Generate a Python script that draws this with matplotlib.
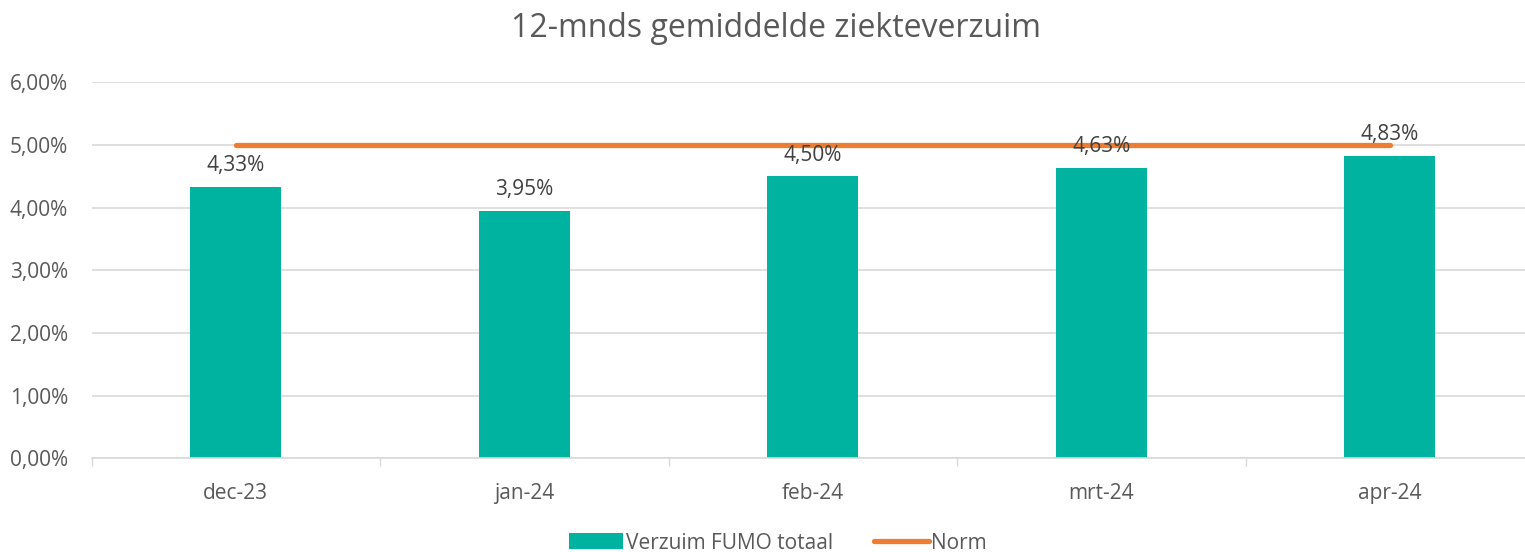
import matplotlib.pyplot as plt
from matplotlib.patches import Patch
from matplotlib.lines import Line2D

plt.rcParams['font.family'] = ['Open Sans', 'DejaVu Sans']

# Data
months = ["dec-23", "jan-24", "feb-24", "mrt-24", "apr-24"]
verzuim = [4.33, 3.95, 4.50, 4.63, 4.83]
norm = [5.0, 5.0, 5.0, 5.0, 5.0]

teal = "#00B2A0"
orange = "#ED7D31"
grey_text = "#595959"

fig = plt.figure(figsize=(15.25, 5.52), dpi=100)
ax = fig.add_axes([0.060, 0.170, 0.946, 0.681])

x = list(range(len(months)))
ax.bar(x, verzuim, width=0.315, color=teal, zorder=2)
ax.plot(x, norm, color=orange, linewidth=3.8, solid_capstyle="round", zorder=3)

# data labels above the bars
for xi, v in zip(x, verzuim):
    ax.text(xi, v + 0.17, f"{v:.2f}%".replace(".", ","), ha="center", va="bottom",
            fontsize=15, color="#404040", zorder=4)

ax.set_xlim(-0.5, len(months) - 0.5)
ax.set_ylim(0, 6)
ax.set_yticks([0, 1, 2, 3, 4, 5, 6])
ax.set_yticklabels([f"{t:.2f}%".replace(".", ",") for t in range(7)])
ax.set_xticks(x)
ax.set_xticklabels(months)
ax.set_xticks([i - 0.5 for i in range(len(months) + 1)], minor=True)
ax.tick_params(axis="x", which="major", length=0, pad=18, labelsize=15, labelcolor=grey_text)
ax.tick_params(axis="x", which="minor", length=6, color="#D9D9D9", width=1)
ax.tick_params(axis="y", length=0, pad=17, labelsize=15, labelcolor=grey_text)

ax.grid(axis="y", color="#D9D9D9", linewidth=1.2, zorder=0)
for s in ["top", "right", "left"]:
    ax.spines[s].set_visible(False)
ax.spines["bottom"].set_color("#D9D9D9")
ax.spines["bottom"].set_linewidth(1.2)

fig.text(0.509, 0.948, "12-mnds gemiddelde ziekteverzuim", ha="center", va="center",
         fontsize=23, color=grey_text)

handles = [Patch(facecolor=teal, label="Verzuim FUMO totaal"),
           Line2D([0], [0], color=orange, linewidth=3.8, solid_capstyle="round", label="Norm")]
fig.legend(handles=handles, loc="center", bbox_to_anchor=(0.51, 0.016), ncol=2, frameon=False,
           fontsize=15, labelcolor=grey_text, handlelength=2.6, handletextpad=0.1,
           columnspacing=2.0, handleheight=0.8)

fig.savefig("out.png", dpi=100)
